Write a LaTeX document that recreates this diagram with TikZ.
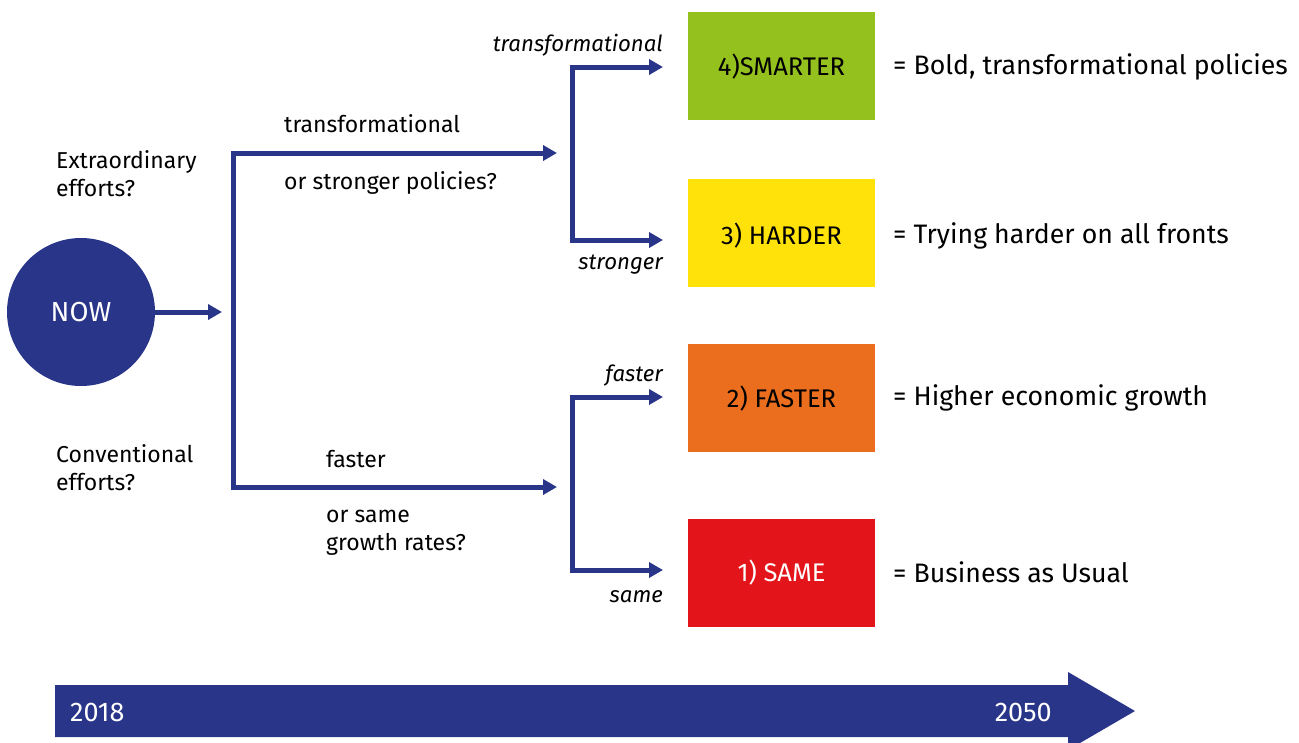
\documentclass[tikz,border=0pt]{standalone}
\usepackage{fontspec}
\setmainfont{Fira Sans}
\usetikzlibrary{arrows.meta}
\definecolor{navy}{HTML}{283588}
\definecolor{cgreen}{HTML}{95C11F}
\definecolor{cyellow}{HTML}{FFE20A}
\definecolor{corange}{HTML}{EA6E1E}
\definecolor{cred}{HTML}{E3151B}
\tikzset{
  flow/.style={draw=navy, line width=5pt},
  arr/.style={flow, -{Triangle[length=14pt,width=15pt]}},
  txt/.style={inner sep=0pt, font=\fontsize{23}{28}\selectfont, align=left},
  itxt/.style={inner sep=0pt, font=\fontsize{22.2}{26}\selectfont\itshape},
  rtxt/.style={inner sep=0pt, anchor=west, font=\fontsize{26.7}{32}\selectfont},
  box/.style={minimum width=187pt, minimum height=108pt, inner sep=0pt},
  boxtxt/.style={inner sep=0pt, font=\fontsize{25.5}{30}\selectfont},
  year/.style={inner sep=0pt, text=white, font=\fontsize{27}{32}\selectfont},
}
\begin{document}
\begin{tikzpicture}[x=1pt,y=-1pt]
\useasboundingbox (0,0) rectangle (1299,742);
% timeline
\fill[navy] (55,685) -- (1068,685) -- (1068,672) -- (1135,711) -- (1068,750) -- (1068,737) -- (55,737) -- cycle;
\node[year, anchor=west] (y2018) at (70,712) {2018};
\node[year, anchor=east] (y2050) at (1052,712) {2050};
% NOW
\node[circle, fill=navy, minimum size=148pt, inner sep=0pt, text=white, font=\fontsize{27.5}{32}\selectfont] (now) at (81,312) {NOW};
\coordinate (b1) at (222,312);
\draw[flow, -{Triangle[length=14pt,width=15pt]}] (now.east) -- (b1);
% first bracket
\coordinate (t1) at (233,153);
\coordinate (t2) at (233,487);
\coordinate (e1) at (557,153);
\coordinate (e2) at (557,487);
\draw[flow] (t1) -- (t2);
\draw[arr] ([xshift=-2.5pt]t1) -- (e1);
\draw[arr] ([xshift=-2.5pt]t2) -- (e2);
% second brackets
\coordinate (s1) at (572,67);
\coordinate (s2) at (572,240);
\coordinate (s3) at (572,397);
\coordinate (s4) at (572,570);
\coordinate (a1) at (663,67);
\coordinate (a2) at (663,240);
\coordinate (a3) at (663,397);
\coordinate (a4) at (663,570);
\draw[flow] (s1) -- (s2);
\draw[flow] (s3) -- (s4);
\draw[arr] ([xshift=-2.5pt]s1) -- (a1);
\draw[arr] ([xshift=-2.5pt]s2) -- (a2);
\draw[arr] ([xshift=-2.5pt]s3) -- (a3);
\draw[arr] ([xshift=-2.5pt]s4) -- (a4);
% boxes
\node[box, fill=cgreen] (smarter) at (781.5,66) {};
\node[box, fill=cyellow] (harder) at (781.5,233) {};
\node[box, fill=corange] (faster) at (781.5,398) {};
\node[box, fill=cred] (same) at (781.5,573) {};
\node[boxtxt] (smartert) at (781.5,67) {4)SMARTER};
\node[boxtxt] (hardert) at (781.5,236) {3) HARDER};
\node[boxtxt] (fastert) at (781.5,399) {2) FASTER};
\node[boxtxt, text=white] (samet) at (781.5,573) {1) SAME};
% right labels
\node[rtxt] (r1) at (893,67) {= Bold, transformational policies};
\node[rtxt] (r2) at (893,236) {= Trying harder on all fronts};
\node[rtxt] (r3) at (893,398) {= Higher economic growth};
\node[rtxt] (r4) at (893,572) {= Business as Usual};
% italic labels
\node[itxt, anchor=east] (l1) at (663,45) {transformational};
\node[itxt, anchor=east] (l2) at (663,265) {stronger};
\node[itxt, anchor=east] (l3) at (663,376) {faster};
\node[itxt, anchor=east] (l4) at (663,597) {same};
% middle labels
\node[txt, anchor=west] (m1) at (284,124) {transformational};
\node[txt, anchor=west] (m2) at (284,183) {or stronger policies?};
\node[txt, anchor=west] (m3) at (326,459) {faster};
\node[txt, anchor=west] (m4) at (326,533) {or same\\growth rates?};
% left labels
\node[txt, anchor=west] (q1) at (56,174) {Extraordinary\\efforts?};
\node[txt, anchor=west] (q2) at (56,468) {Conventional\\efforts?};
\end{tikzpicture}
\end{document}
